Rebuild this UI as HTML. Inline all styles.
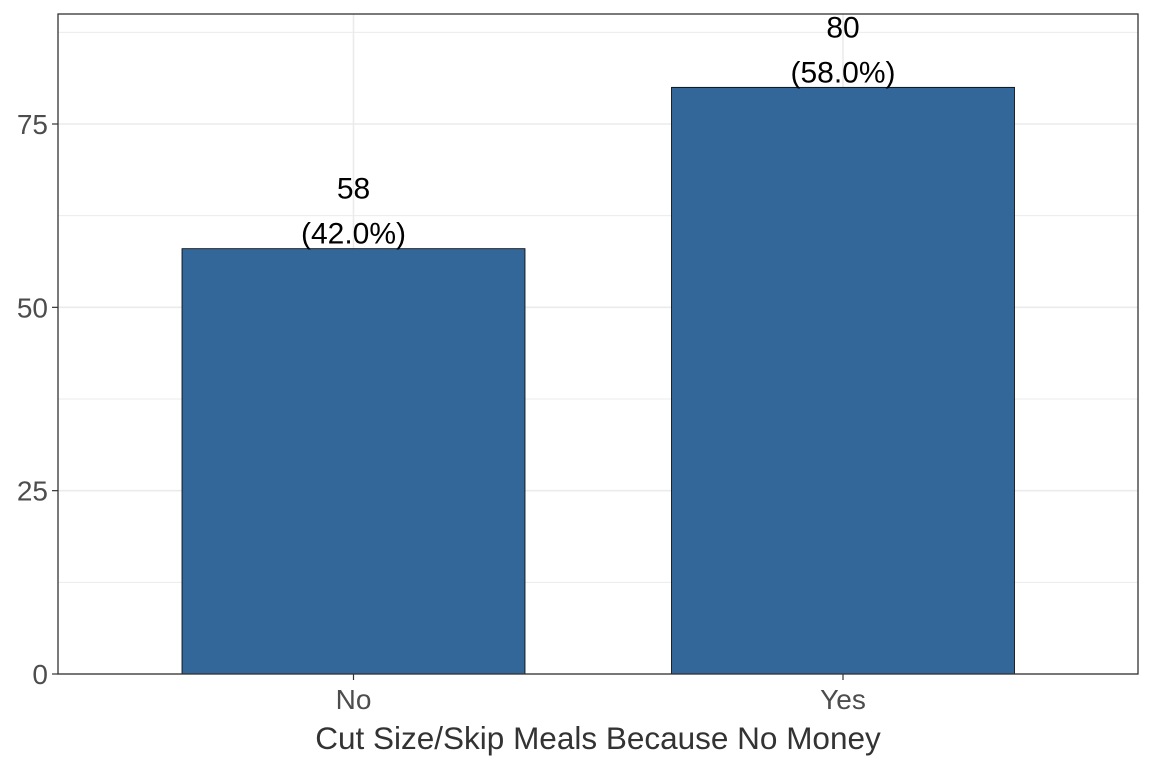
<!DOCTYPE html>
<html><head><meta charset="utf-8"><style>
html,body{margin:0;padding:0;background:#fff;}
svg text{font-family:"Liberation Sans",Arial,sans-serif;}
</style></head><body>
<svg id="chart" width="1152" height="768" xmlns="http://www.w3.org/2000/svg"></svg>
<script>
const categories = ["No", "Yes"];
const counts = [58, 80];
const percentLabels = ["(42.0%)", "(58.0%)"];
const yTicks = [0, 25, 50, 75];
const yMinorTicks = [12.5, 37.5, 62.5, 87.5];
const xTitle = "Cut Size/Skip Meals Because No Money";

const NS = "http://www.w3.org/2000/svg";
const svg = document.getElementById("chart");
const L = 58, R = 1138, T = 14, B = 674, yMax = 90;
const y = v => B - (B - T) * v / yMax;
function mk(tag, attrs) {
  const e = document.createElementNS(NS, tag);
  for (const k in attrs) e.setAttribute(k, attrs[k]);
  svg.appendChild(e);
  return e;
}
const cx = i => 353.5 + i * 489.5;
const bw = 343;

yMinorTicks.forEach(v => {
  const l = mk("line", {x1: L, x2: R, y1: y(v), y2: y(v), stroke: "#ebebeb", "stroke-width": 1});
  
  
});
yTicks.forEach(v => {
  const l = mk("line", {x1: L, x2: R, y1: y(v), y2: y(v), stroke: "#ebebeb", "stroke-width": 1.6});
  
  
});
categories.forEach((c, i) => {
  const l = mk("line", {x1: cx(i), x2: cx(i), y1: T, y2: B, stroke: "#ebebeb", "stroke-width": 1.6});
  
  
});
categories.forEach((c, i) => {
  const r = mk("rect", {x: cx(i) - bw / 2, y: y(counts[i]), width: bw, height: B - y(counts[i]), fill: "#336699", stroke: "#000", "stroke-width": 0.8});
  
  
  const t1 = mk("text", {x: cx(i), y: y(counts[i]) - 50, "text-anchor": "middle", "font-size": 30, fill: "#000"});
  t1.textContent = counts[i];
  
  
  const t2 = mk("text", {x: cx(i), y: y(counts[i]) - 5, "text-anchor": "middle", "font-size": 30, fill: "#000"});
  t2.textContent = percentLabels[i];
  
  
  const tk = mk("line", {x1: cx(i), x2: cx(i), y1: B, y2: B + 6, stroke: "#333", "stroke-width": 1.2});
  
  
  const tl = mk("text", {x: cx(i), y: B + 35, "text-anchor": "middle", "font-size": 28, fill: "#4d4d4d"});
  tl.textContent = c;
  
  
});
yTicks.forEach(v => {
  const tk = mk("line", {x1: L - 6, x2: L, y1: y(v), y2: y(v), stroke: "#333", "stroke-width": 1.2});
  
  
  const tl = mk("text", {x: L - 10, y: y(v) + 10, "text-anchor": "end", "font-size": 28, fill: "#4d4d4d"});
  tl.textContent = v;
  
  
});
const frame = mk("rect", {x: L, y: T, width: R - L, height: B - T, fill: "none", stroke: "#333", "stroke-width": 1.3});


const xt = mk("text", {x: (L + R) / 2, y: 749, "text-anchor": "middle", "font-size": 31.5, fill: "#333"});
xt.textContent = xTitle;


</script>
</body></html>
